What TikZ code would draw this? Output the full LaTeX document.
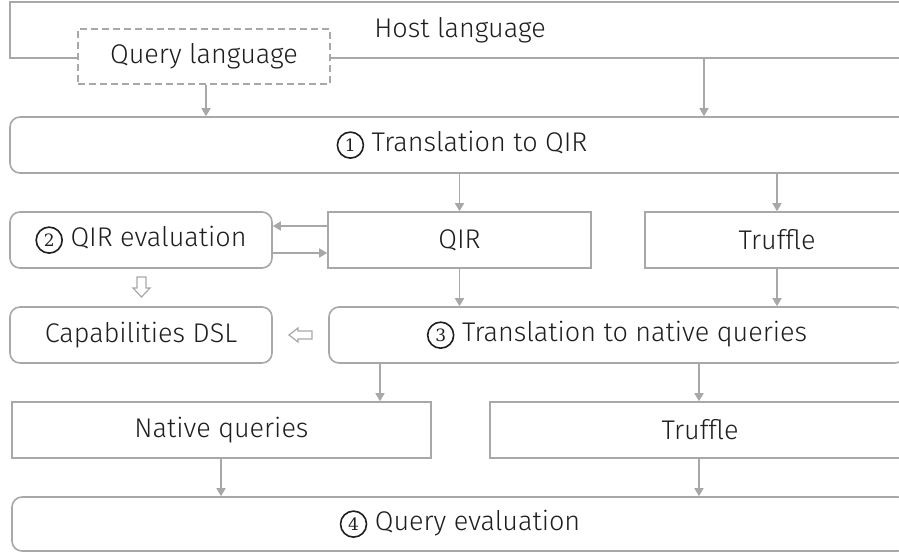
\documentclass[tikz,border=0pt]{standalone}
\usepackage{fontspec}
\setmainfont{Fira Sans}[UprightFont=* Light]
\newfontfamily\digitfont{DejaVu Serif}
\usetikzlibrary{arrows.meta}
\definecolor{gc}{HTML}{A8A8A8}
\definecolor{tc}{HTML}{1E1E1E}
\newcommand{\cnum}[1]{\tikz[baseline=(cn.base), x=1pt, y=1pt]\node[circle, draw=tc, line width=1.6pt, minimum size=26pt, inner sep=0pt, text=tc] (cn) {\digitfont\fontsize{17}{17}\selectfont #1};}
\begin{document}
\begin{tikzpicture}[x=1pt,y=-1pt,
  ln/.style={draw=gc, line width=1.6pt},
  box/.style={ln, fill=white, inner sep=0pt, minimum height=56pt,
    font=\fontsize{27}{30}\selectfont, text=tc},
  rbox/.style={box, rounded corners=10pt},
  arr/.style={draw=gc, line width=1.6pt, -{Triangle[length=8pt,width=9pt]}},
  hollow/.style={draw=gc, line width=1.2pt, fill=white, line join=miter}]
\useasboundingbox (0,0) rectangle (899,552);
\clip (0,0) rectangle (899,552);
% row 1
\node[box, minimum width=900pt] (host) at (460,30) {Host language};
\node[box, minimum width=252pt, minimum height=55pt, dashed, dash pattern=on 7pt off 4pt] (ql) at (204,56.5) {Query language};
% row 2
\node[rbox, minimum width=904pt] (tqir) at (462,145) {\cnum{1} Translation to QIR};
% row 3
\node[rbox, minimum width=262pt] (qeval) at (141,240) {\cnum{2} QIR evaluation};
\node[box, minimum width=263pt] (qir) at (459.5,240) {QIR};
\node[box, minimum width=264pt] (truf1) at (777,240) {Truffle};
% row 4
\node[rbox, minimum width=262pt] (caps) at (141,335) {Capabilities DSL};
\node[rbox, minimum width=576pt] (tnat) at (617,335) {\cnum{3} Translation to native queries};
% row 5
\node[box, minimum width=419pt] (native) at (221.5,430) {Native queries};
\node[box, minimum width=420pt] (truf2) at (700,430) {Truffle};
% row 6
\node[rbox, minimum width=896pt, minimum height=54pt] (qevf) at (460,524) {\cnum{4} Query evaluation};
% helper x positions
\coordinate (xa) at (206,0);
\coordinate (xb) at (704,0);
\coordinate (xc) at (380,0);
\coordinate (xd) at (699,0);
\coordinate (xe) at (221,0);
\coordinate (yu) at (0,226);
\coordinate (yl) at (0,253);
% connectors
\draw[arr] (ql.south -| xa) -- (tqir.north -| xa);
\draw[arr] (host.south -| xb) -- (tqir.north -| xb);
\draw[arr] (tqir.south -| qir.north) -- (qir.north);
\draw[arr] (tqir.south -| truf1.north) -- (truf1.north);
\draw[arr] (qir.west |- yu) -- (qeval.east |- yu);
\draw[arr] (qeval.east |- yl) -- (qir.west |- yl);
\draw[arr] (qir.south) -- (tnat.north -| qir.south);
\draw[arr] (truf1.south) -- (tnat.north -| truf1.south);
\draw[arr] (tnat.south -| xc) -- (native.north -| xc);
\draw[arr] (tnat.south -| xd) -- (truf2.north -| xd);
\draw[arr] (native.south -| xe) -- (qevf.north -| xe);
\draw[arr] (truf2.south -| xd) -- (qevf.north -| xd);
% hollow arrows
\draw[hollow] (137,277) -- (146,277) -- (146,288) -- (150,288) -- (141.5,297) -- (133,288) -- (137,288) -- cycle;
\draw[hollow] (312,331) -- (312,339) -- (298,339) -- (298,342) -- (289,335) -- (298,328) -- (298,331) -- cycle;
\end{tikzpicture}
\end{document}
